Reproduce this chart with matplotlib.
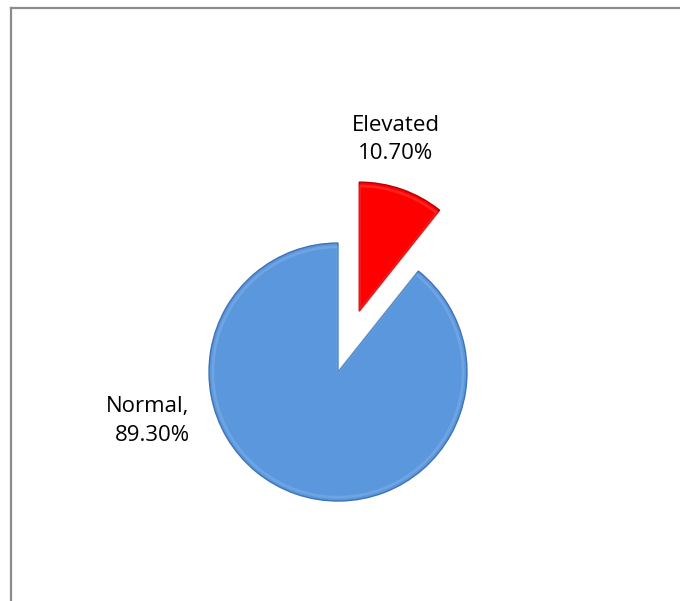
import matplotlib
matplotlib.use('Agg')
import matplotlib.pyplot as plt
from matplotlib.lines import Line2D

# Blood pressure categories
categories = ['Normal', 'Elevated']
shares = [89.30, 10.70]
colors = ['#5B97DD', '#FF0000']
edge_colors = ['#3F72B4', '#B80000']
explode = [0.0, 0.5]

plt.rcParams['font.family'] = ['Open Sans', 'DejaVu Sans']

fig = plt.figure(figsize=(6.8, 6.01), dpi=100)
ax = fig.add_axes([0, 0, 1, 1])

wedges, _ = ax.pie(shares, colors=colors, explode=explode, startangle=90,
                   counterclock=True, radius=1.0,
                   wedgeprops=dict(linewidth=1.0))
for w, ec in zip(wedges, edge_colors):
    w.set_edgecolor(ec)

# soft inner bevel highlight along the rim
inner, _ = ax.pie(shares, colors=['none', 'none'], explode=explode, startangle=90,
                  counterclock=True, radius=0.97,
                  wedgeprops=dict(linewidth=2.0, alpha=0.25))
for w, hc in zip(inner, ['#A8CBF2', '#FF8080']):
    w.set_edgecolor(hc)

# data labels
ax.text(0.45, 1.80, f"{categories[1]}\n{shares[1]:.2f}%", ha='center', va='center',
        fontsize=16, linespacing=1.45)
ax.text(-1.15, -0.38, f"{categories[0]},\n{shares[0]:.2f}%", ha='right', va='center',
        fontsize=16, linespacing=1.45, multialignment='right')

ax.set_xlim(-2.620, 2.651)
ax.set_ylim(-1.775, 2.884)
ax.set_aspect('equal')
ax.axis('off')

# chart area frame (left and top edges visible)
fig.add_artist(Line2D([11 / 680, 11 / 680], [0, 1 - 8 / 601], transform=fig.transFigure,
                      color='#8C8C8C', linewidth=1.6))
fig.add_artist(Line2D([11 / 680, 1], [1 - 8 / 601, 1 - 8 / 601], transform=fig.transFigure,
                      color='#8C8C8C', linewidth=1.6))

fig.savefig('out.png', dpi=100)
